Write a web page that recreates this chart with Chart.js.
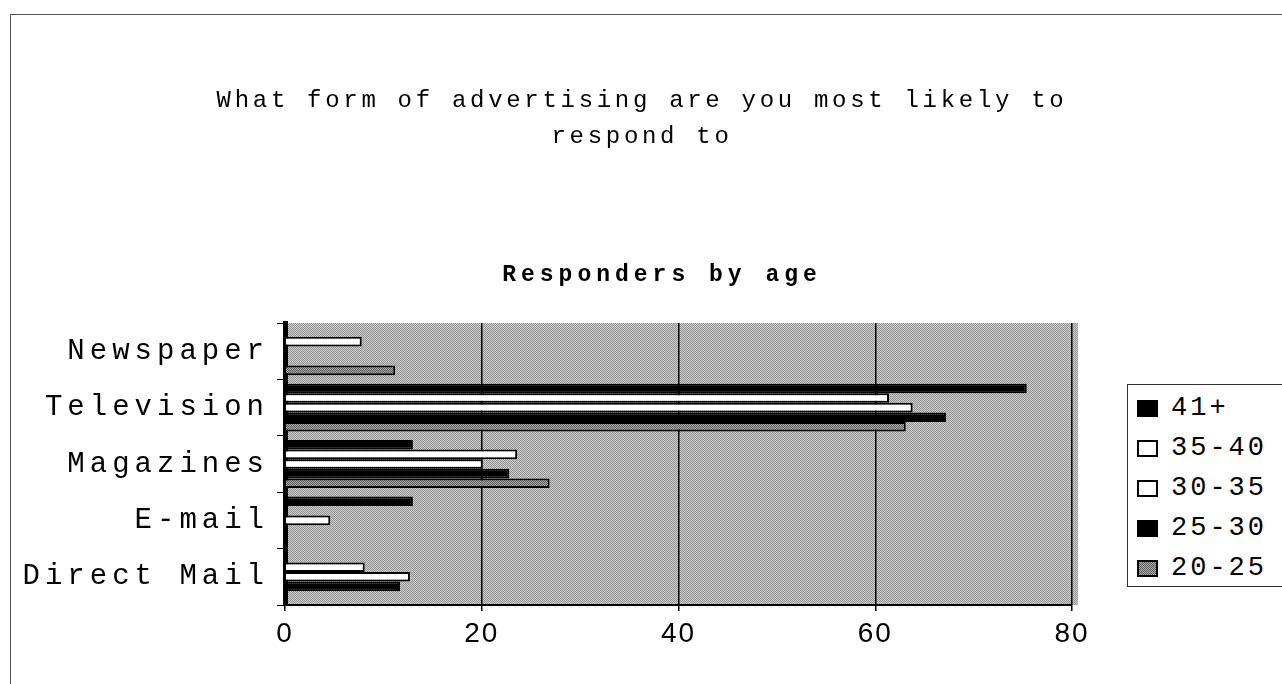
<!DOCTYPE html>
<html>
<head>
<meta charset="utf-8">
<title>Responders by age</title>
<script src="https://cdn.jsdelivr.net/npm/chart.js@4.4.1/dist/chart.umd.min.js"></script>
<style>
    body { margin: 0; background: #fff; }
    #wrap { position: relative; width: 1282px; height: 684px; overflow: hidden; }
    #frame { position: absolute; left: 10px; top: 14px; width: 1400px; height: 800px; border: 1.5px solid #555; }
    #chart { position: absolute; left: 0; top: 0; }
    .txt { position: absolute; font-family: "Liberation Mono", "DejaVu Sans Mono", monospace; color: #000; white-space: nowrap; }
    #title { left: 0; width: 1284px; top: 83px; text-align: center; font-size: 24px; line-height: 36px; letter-spacing: 3.7px; }
    #subtitle { left: 462px; width: 400px; top: 262px; text-align: center; font-size: 23px; font-weight: bold; letter-spacing: 5px; }
    #legend { position: absolute; left: 1127px; top: 384px; width: 200px; height: 201px; border: 1.5px solid #333; background: #fff; }
    .item { position: absolute; left: 9px; width: 180px; height: 30px; }
    .swatch { position: absolute; left: 0; top: 7px; width: 21px; height: 17px; box-sizing: border-box; border: 2px solid #000; }
    .label { position: absolute; left: 34px; top: 0; white-space: nowrap; font-family: "Liberation Mono", monospace; font-size: 27px; line-height: 30px; letter-spacing: 3px; color: #000; }
</style>
</head>
<body>
<div id="wrap">
    <div id="frame"></div>
    <canvas id="chart" width="1282" height="684"></canvas>
    <div id="title" class="txt">What form of advertising are you most likely to<br>respond to</div>
    <div id="subtitle" class="txt">Responders by age</div>
    <div id="legend"></div>
</div>
<script>
// categories, top to bottom
const categories = ['Newspaper', 'Television', 'Magazines', 'E-mail', 'Direct Mail'];
const seriesLabels = ['41+', '35-40', '30-35', '25-30', '20-25'];

// responders per age group
const age41plus = [0, 75.4, 13.0, 13.0, 0];
const age35to40 = [7.8, 61.4, 23.6, 0, 8.1];
const age30to35 = [0, 63.8, 20.1, 4.6, 12.7];
const age25to30 = [0, 67.2, 22.8, 0, 11.7];
const age20to25 = [11.2, 63.1, 26.9, 0, 0];

const xTicks = [0, 20, 40, 60, 80];

// small halftone patterns, like the scanned print
function makePattern(dark, light) {
    const c = document.createElement('canvas');
    c.width = 2; c.height = 2;
    const g = c.getContext('2d');
    g.fillStyle = light; g.fillRect(0, 0, 2, 2);
    g.fillStyle = dark; g.fillRect(0, 0, 1, 1); g.fillRect(1, 1, 1, 1);
    return g.createPattern(c, 'repeat');
}
const wallPattern = makePattern('#939393', '#cdcdcd');
const greyPattern = makePattern('#5e5e5e', '#a9a9a9');

const styles = [
    { fill: '#000', border: '#000', css: 'background:#000' },
    { fill: '#fff', border: '#000', css: 'background:#fff' },
    { fill: '#fff', border: '#000', css: 'background:#fff' },
    { fill: '#000', border: '#000', css: 'background:#000' },
    { fill: greyPattern, border: '#000', css: 'background:repeating-conic-gradient(#5e5e5e 0 25%, #a9a9a9 0 50%) 0 0/2px 2px' }
];
const seriesValues = [age41plus, age35to40, age30to35, age25to30, age20to25];

// HTML legend
const legendBox = document.getElementById('legend');
seriesLabels.forEach((label, i) => {
    const item = document.createElement('div');
    item.className = 'item';
    item.style.top = (8 + i * 40) + 'px';
    item.innerHTML = `<div class="swatch" style="${styles[i].css}"></div><div class="label">${label}</div>`;
    legendBox.appendChild(item);
});

// plot area background
const wallPlugin = {
    id: 'wall',
    beforeDraw(chart) {
        const { ctx, chartArea: a } = chart;
        ctx.save();
        ctx.fillStyle = wallPattern;
        ctx.fillRect(a.left, a.top, a.right - a.left + 6, a.bottom - a.top);
        ctx.restore();
    }
};

// wide letter spacing on the tick labels
const spacingPlugin = {
    id: 'spacing',
    beforeDraw(chart) {
        Object.values(chart.scales).forEach(scale => {
            if (scale._spaced) return;
            const draw = scale.drawLabels;
            const ls = scale.axis === 'y' ? '5px' : '2px';
            scale.drawLabels = function (area) {
                this.ctx.save();
                this.ctx.letterSpacing = ls;
                draw.call(this, area);
                this.ctx.restore();
            };
            scale._spaced = true;
        });
    }
};

new Chart(document.getElementById('chart'), {
    type: 'bar',
    data: {
        labels: categories,
        datasets: seriesLabels.map((label, i) => ({
            label: label,
            data: seriesValues[i],
            backgroundColor: styles[i].fill,
            borderColor: styles[i].border,
            borderWidth: 2,
            barPercentage: 1,
            categoryPercentage: 0.85
        }))
    },
    options: {
        indexAxis: 'y',
        responsive: false,
        animation: false,
        layout: { padding: { top: 323, right: 210, left: 0, bottom: 0 } },
        plugins: {
            legend: { display: false },
            title: { display: false },
            tooltip: { enabled: false }
        },
        scales: {
            x: {
                min: xTicks[0],
                max: xTicks[xTicks.length - 1],
                afterFit: scale => { scale.height = 79; },
                afterBuildTicks: scale => { scale.ticks = xTicks.map(v => ({ value: v })); },
                grid: { color: '#000', lineWidth: 1.5, tickLength: 6 },
                border: { color: '#000', width: 2 },
                ticks: {
                    color: '#000',
                    padding: 6,
                    font: { family: '"Liberation Sans", Arial, sans-serif', size: 28 }
                }
            },
            y: {
                afterFit: scale => { scale.width = 285; },
                grid: { drawOnChartArea: false, color: '#000', tickLength: 8, offset: true },
                border: { color: '#000', width: 5 },
                ticks: {
                    color: '#000',
                    padding: 8,
                    font: { family: '"Liberation Mono", monospace', size: 29 }
                }
            }
        }
    },
    plugins: [wallPlugin, spacingPlugin]
});
</script>
</body>
</html>
